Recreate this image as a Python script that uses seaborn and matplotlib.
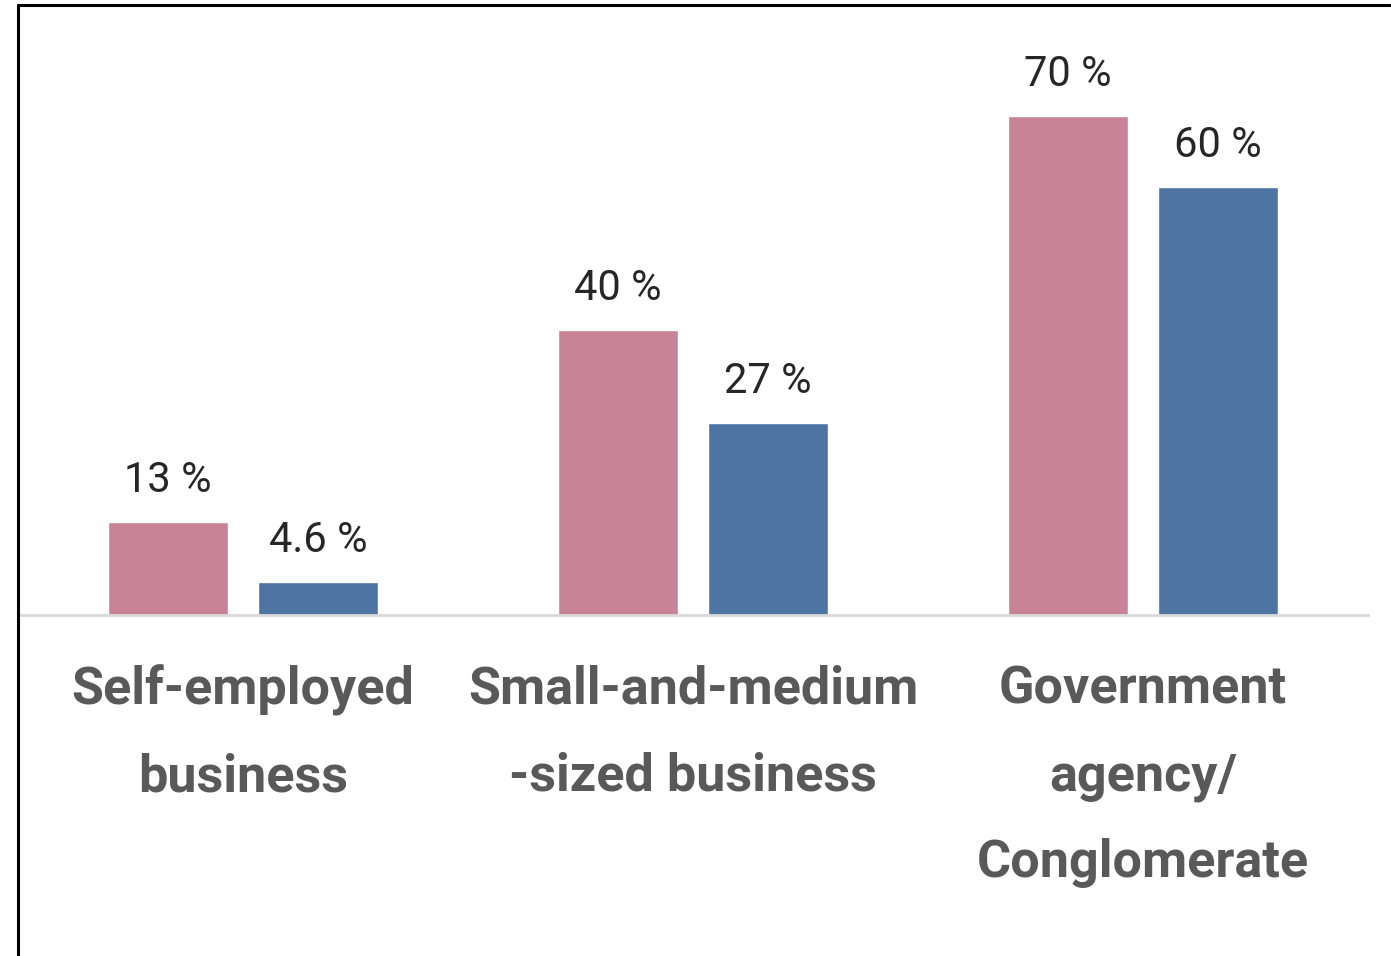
import matplotlib
matplotlib.use("Agg")
import matplotlib.pyplot as plt
from matplotlib.lines import Line2D
import pandas as pd
import seaborn as sns

categories = ["Self-employed\nbusiness", "Small-and-medium\n-sized business", "Government\nagency/\nConglomerate"]
series_names = ["Series 1", "Series 2"]
series_1 = [13, 40, 70]
series_2 = [4.6, 27, 60]
colors = ["#C98397", "#4E74A3"]

df = pd.DataFrame({
    "category": categories * 2,
    "series": [series_names[0]] * 3 + [series_names[1]] * 3,
    "value": series_1 + series_2,
})

sns.set_theme(style="white")
plt.rcParams["font.family"] = ["Roboto", "DejaVu Sans"]

W, H = 1391, 956
fig = plt.figure(figsize=(W / 100, H / 100), dpi=100)
ax = fig.add_axes([18 / W, 1 - 615 / H, 1350 / W, (615 - 5) / H])

sns.barplot(data=df, x="category", y="value", hue="series", palette=colors,
            width=2 / 3, gap=0.2, saturation=1, legend=False, ax=ax)

ax.set_xlim(-0.5, 2.5)
ax.set_ylim(0, (615 - 5) / (499 / 70))

for container, vals in zip(ax.containers, [series_1, series_2]):
    ax.bar_label(container, labels=[f"{v:g} %" for v in vals], padding=15,
                 fontsize=30, color="#262626")

for s in ["top", "right", "left"]:
    ax.spines[s].set_visible(False)
ax.spines["bottom"].set_color("#D9D9D9")
ax.spines["bottom"].set_linewidth(2)
ax.set_yticks([])
ax.set_xlabel("")
ax.set_ylabel("")
ax.tick_params(axis="x", length=0, pad=36)
for lbl in ax.get_xticklabels():
    lbl.set_fontsize(37.5)
    lbl.set_fontweight("bold")
    lbl.set_color("#595959")
    lbl.set_linespacing(1.93)

# frame lines along the top and left edges
fig.add_artist(Line2D([18 / W, 1], [1 - 5 / H, 1 - 5 / H], color="black", lw=2.2,
                      transform=fig.transFigure))
fig.add_artist(Line2D([18 / W, 18 / W], [0, 1 - 5 / H], color="black", lw=2.2,
                      transform=fig.transFigure))

fig.savefig("out.png", dpi=100, facecolor="white")
